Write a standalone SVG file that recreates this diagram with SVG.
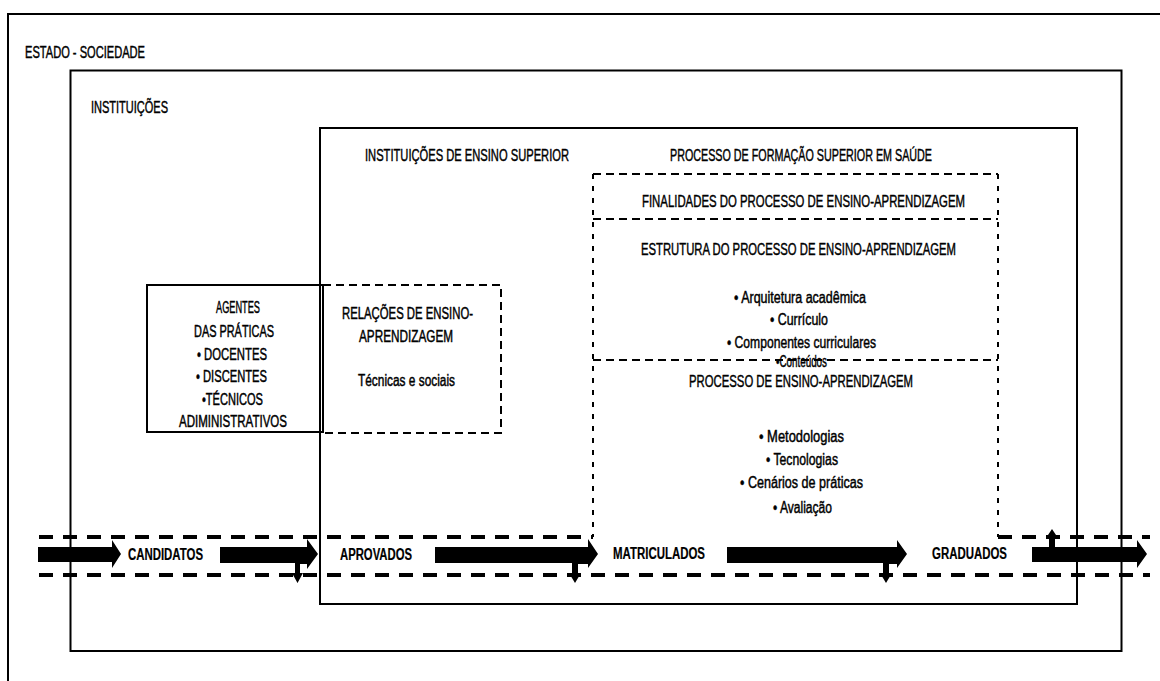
<svg xmlns="http://www.w3.org/2000/svg" width="1160" height="681" viewBox="0 0 1160 681">
<style>
  .frame{fill:none;stroke:#000;stroke-width:2}
  .dash{fill:none;stroke:#000;stroke-width:2;stroke-dasharray:8 5}
  .dashv{fill:none;stroke:#000;stroke-width:2;stroke-dasharray:5 7}
  .flowline{fill:none;stroke:#000;stroke-width:4;stroke-dasharray:14 10}
  .arrow{fill:#000;stroke:none}
  text{font-family:"Liberation Sans Narrow","Liberation Sans",Arial,sans-serif;fill:#000;stroke:#000;stroke-width:0.45}
  .h{font-size:17px}
  .b{font-size:16px}
  .f{font-size:16px;font-weight:bold;stroke-width:0.2}
</style>
<rect width="1160" height="681" fill="#fff"/>

<g id="estado-sociedade">
  <rect class="frame" x="8" y="14" width="1170" height="700"/>
  <text class="h" x="25" y="58" textLength="120" lengthAdjust="spacingAndGlyphs">ESTADO - SOCIEDADE</text>
</g>

<g id="instituicoes">
  <rect class="frame" x="70.5" y="70.5" width="1051" height="580.5"/>
  <text class="h" x="91" y="113" textLength="77" lengthAdjust="spacingAndGlyphs">INSTITUIÇÕES</text>
</g>

<g id="ies">
  <rect class="frame" x="320" y="128" width="757" height="476"/>
  <text class="h" x="365" y="161" textLength="204" lengthAdjust="spacingAndGlyphs">INSTITUIÇÕES DE ENSINO SUPERIOR</text>
  <text class="h" x="670" y="161" textLength="262" lengthAdjust="spacingAndGlyphs">PROCESSO DE FORMAÇÃO SUPERIOR EM SAÚDE</text>
</g>

<g id="agentes">
  <rect class="frame" x="147" y="285" width="176" height="147"/>
  <text class="b" x="216" y="313" textLength="44" lengthAdjust="spacingAndGlyphs">AGENTES</text>
  <text class="b" x="194" y="337" textLength="80" lengthAdjust="spacingAndGlyphs">DAS PRÁTICAS</text>
  <text class="b" x="197" y="360" textLength="70" lengthAdjust="spacingAndGlyphs">• DOCENTES</text>
  <text class="b" x="196" y="382" textLength="71" lengthAdjust="spacingAndGlyphs">• DISCENTES</text>
  <text class="b" x="202" y="405" textLength="61" lengthAdjust="spacingAndGlyphs">•TÉCNICOS</text>
  <text class="b" x="179" y="427" textLength="108" lengthAdjust="spacingAndGlyphs">ADIMINISTRATIVOS</text>
</g>

<g id="relacoes">
  <path class="dash" d="M323,285 H501 V433 H323"/>
  <text class="b" x="342" y="319" textLength="131" lengthAdjust="spacingAndGlyphs">RELAÇÕES DE ENSINO-</text>
  <text class="b" x="359" y="342" textLength="94" lengthAdjust="spacingAndGlyphs">APRENDIZAGEM</text>
  <text class="b" x="358" y="386" textLength="97" lengthAdjust="spacingAndGlyphs">Técnicas e sociais</text>
</g>

<g id="finalidades">
  <path class="dash" d="M593,174 H998"/>
  <path class="dash" d="M593,219 H998"/>
  <text class="h" x="642" y="207" textLength="323" lengthAdjust="spacingAndGlyphs">FINALIDADES DO PROCESSO DE ENSINO-APRENDIZAGEM</text>
</g>

<g id="estrutura">
  <text class="h" x="641" y="255" textLength="315" lengthAdjust="spacingAndGlyphs">ESTRUTURA DO PROCESSO DE ENSINO-APRENDIZAGEM</text>
  <text class="b" x="734" y="303" textLength="132" lengthAdjust="spacingAndGlyphs">• Arquitetura acadêmica</text>
  <text class="b" x="770" y="325" textLength="58" lengthAdjust="spacingAndGlyphs">• Currículo</text>
  <text class="b" x="727" y="348" textLength="149" lengthAdjust="spacingAndGlyphs">• Componentes curriculares</text>
  <text class="b" x="776" y="367" textLength="51" lengthAdjust="spacingAndGlyphs">•Conteúdos</text>
  <path class="dash" d="M593,360 H998"/>
</g>

<g id="processo-ensino">
  <path class="dashv" d="M593,174 V537"/>
  <path class="dashv" d="M998,174 V537"/>
  <text class="h" x="689" y="387" textLength="224" lengthAdjust="spacingAndGlyphs">PROCESSO DE ENSINO-APRENDIZAGEM</text>
  <text class="b" x="759" y="442" textLength="85" lengthAdjust="spacingAndGlyphs">• Metodologias</text>
  <text class="b" x="766" y="465" textLength="72" lengthAdjust="spacingAndGlyphs">• Tecnologias</text>
  <text class="b" x="740" y="488" textLength="123" lengthAdjust="spacingAndGlyphs">• Cenários de práticas</text>
  <text class="b" x="773" y="513" textLength="59" lengthAdjust="spacingAndGlyphs">• Avaliação</text>
</g>

<g id="candidatos"><text class="f" x="128" y="560" textLength="75" lengthAdjust="spacingAndGlyphs">CANDIDATOS</text></g>
<g id="aprovados"><text class="f" x="340" y="560" textLength="72" lengthAdjust="spacingAndGlyphs">APROVADOS</text></g>
<g id="matriculados"><text class="f" x="613" y="559" textLength="92" lengthAdjust="spacingAndGlyphs">MATRICULADOS</text></g>
<g id="graduados"><text class="f" x="932" y="559" textLength="75" lengthAdjust="spacingAndGlyphs">GRADUADOS</text></g>

<g id="connectors">
  <path class="flowline" d="M39,537 H593"/>
  <path class="flowline" d="M998,537 H1150"/>
  <path class="flowline" d="M39,575 H1150"/>
  <path class="arrow" d="M38,547 H112 V540 L121,554 L112,568 V562 H38 Z"/>
  <path class="arrow" d="M220,547 H307 V539 L318,554 L307,569 V564 H300 V573 H303 L297.5,583 L292,573 H295 V563 H220 Z"/>
  <path class="arrow" d="M435,547 H588 V539 L598,554 L588,568 V564 H578 V573 H581 L575,583 L569,573 H572 V563 H435 Z"/>
  <path class="arrow" d="M727,547 H897 V540 L907,554 L897,568 V564 H889 V573 H892 L886,583 L880,573 H883 V563 H727 Z"/>
  <path class="arrow" d="M1032,547 H1049 V538 H1046 L1052,529 L1058,538 H1055 V547 H1137 V540 L1147,554 L1137,568 V562 H1032 Z"/>
</g>
</svg>
